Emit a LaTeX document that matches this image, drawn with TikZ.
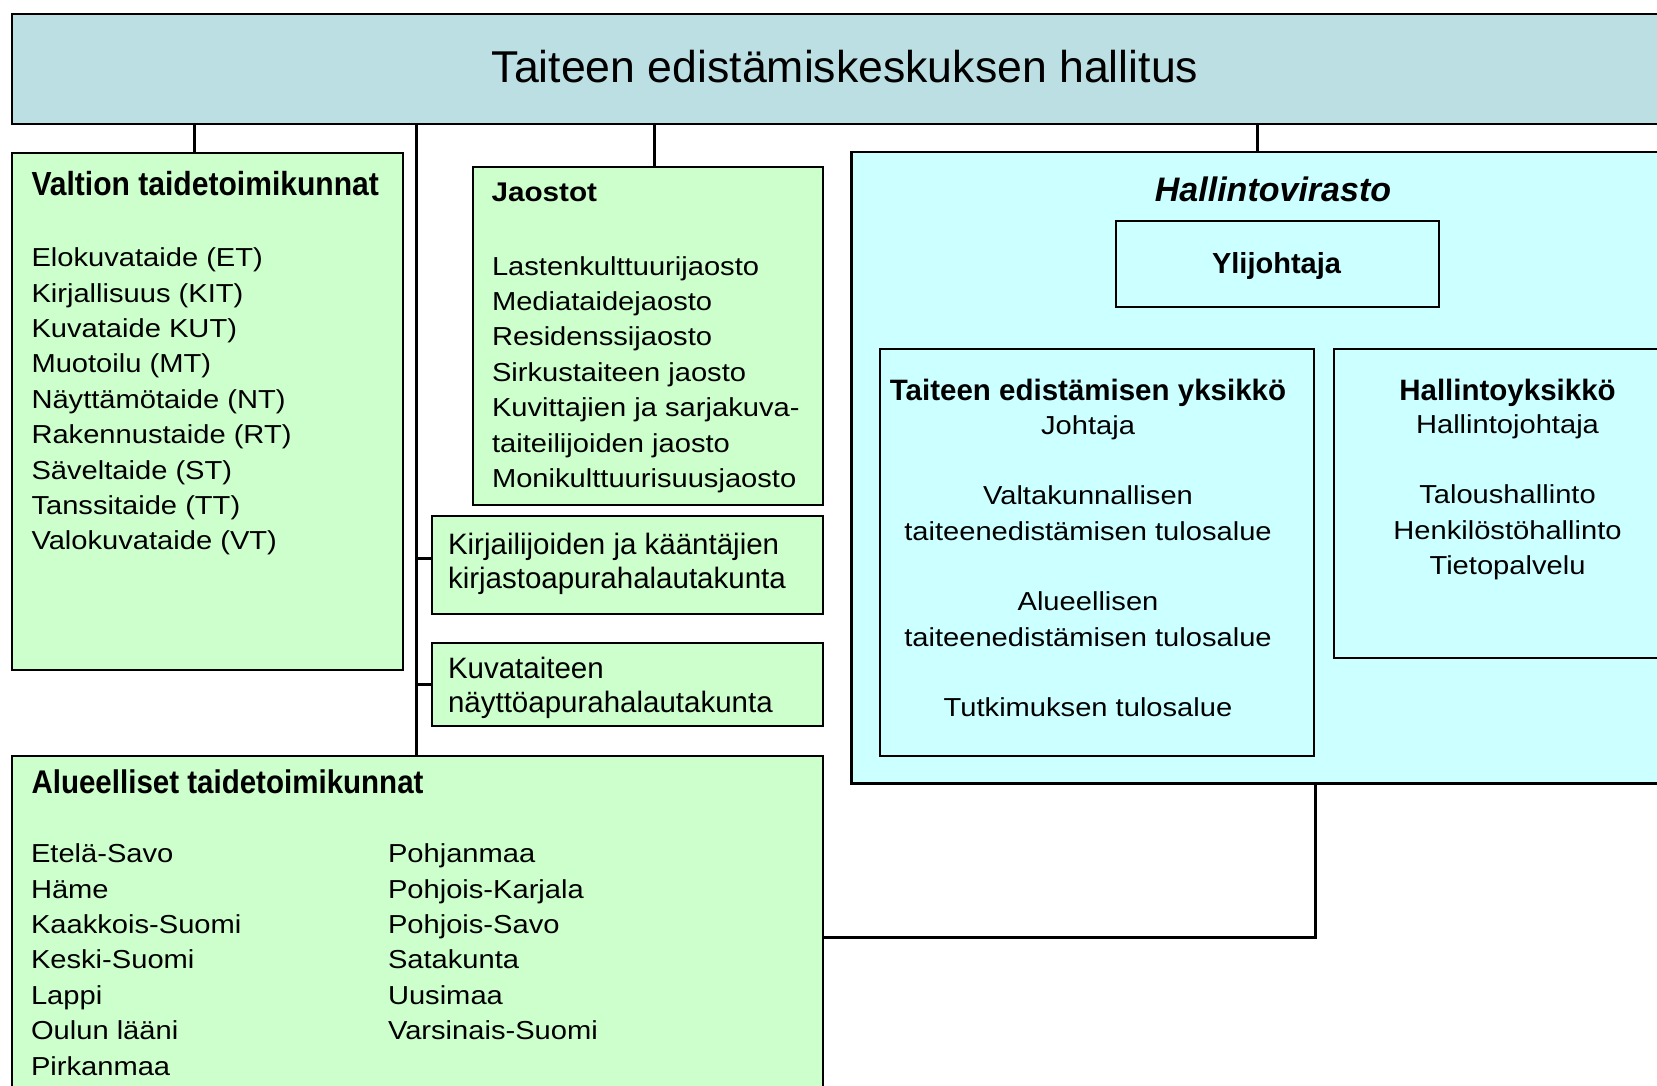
\documentclass[tikz,border=0pt]{standalone}
\usepackage{fontspec}
\setmainfont{Liberation Sans}
\newfontfamily\bodyf[FakeStretch=1.12]{Liberation Sans}
\newfontfamily\plainf{Liberation Sans}
\newfontfamily\condf[FakeStretch=0.9]{Liberation Sans}
\newfontfamily\widef[FakeStretch=1.1]{Liberation Sans}
\newcommand\mystrut[1]{\rule{0pt}{#1}}
\definecolor{topc}{HTML}{BBDFE2}
\definecolor{grn}{HTML}{CCFFCC}
\definecolor{cyn}{HTML}{CCFFFF}
\tikzset{
  box/.style={draw=black, line width=2pt, rectangle, anchor=north west, inner sep=0pt},
  gbox/.style={box, fill=grn},
  cbox/.style={box, fill=cyn},
  conn/.style={draw=black, line width=3pt},
  txt/.style={inner sep=0pt, outer sep=0pt},
  bodytxt/.style={txt, font={\bodyf\fontsize{26}{35.4}\selectfont}},
}
\begin{document}
\begin{tikzpicture}[x=1pt, y=-1pt]
\useasboundingbox (0,0) rectangle (1657,1086);
\clip (0,0) rectangle (1657,1086);

% boxes
\node[box, fill=topc, line width=1.8pt, minimum width=1669pt, minimum height=110pt] (top) at (11,13) {};
\node[gbox, minimum width=391pt, minimum height=517pt] (valtion) at (11,152) {};
\node[gbox, minimum width=350pt, minimum height=338pt] (jaostot) at (472,166) {};
\node[gbox, minimum width=391pt, minimum height=98pt] (kirj) at (431,515) {};
\node[gbox, minimum width=391pt, minimum height=83pt] (kuva) at (431,642) {};
\node[gbox, minimum width=811pt, minimum height=345pt] (alue) at (11,755) {};
\node[cbox, line width=2.5pt, minimum width=830pt, minimum height=631pt] (hv) at (850,151) {};
\node[cbox, minimum width=323pt, minimum height=86pt] (yli) at (1115,220) {};
\node[cbox, minimum width=434pt, minimum height=407pt] (tey) at (879,348) {};
\node[cbox, minimum width=347pt, minimum height=309pt] (hy) at (1333,348) {};

% connector coordinates
\coordinate (c1) at (194,0);
\coordinate (c2) at (416,0);
\coordinate (c3) at (654,0);
\coordinate (c4) at (1257,0);
\coordinate (cy) at (0,937);

\draw[conn] (top.south -| c1) -- (valtion.north -| c1);
\draw[conn] (top.south -| c2) -- (alue.north -| c2);
\draw[conn] (top.south -| c3) -- (jaostot.north -| c3);
\draw[conn] (top.south -| c4) -- (hv.north -| c4);
\draw[conn] ([yshift=7pt]kirj.west -| c2) -- ([yshift=7pt]kirj.west);
\draw[conn] (kuva.west -| c2) -- (kuva.west);
\draw[conn] (hv.south -| tey.east) |- (cy -| alue.east);

% texts
\node[txt, anchor=base, font={\plainf\fontsize{44.6}{50}\selectfont}] (toptxt) at (845,83) {Taiteen edistämiskeskuksen hallitus};

\node[txt, anchor=base west, font={\condf\bfseries\fontsize{33.4}{38}\selectfont}] (valh) at (31.5,195.7) {Valtion taidetoimikunnat};
\node[bodytxt, anchor=north west, align=left] (vall) at (31.5,244.7) {\mystrut{22pt}Elokuvataide (ET)\\Kirjallisuus (KIT)\\Kuvataide KUT)\\Muotoilu (MT)\\Näyttämötaide (NT)\\Rakennustaide (RT)\\Säveltaide (ST)\\Tanssitaide (TT)\\Valokuvataide (VT)};

\node[txt, anchor=base west, font={\widef\bfseries\fontsize{27}{32}\selectfont}] (jaoh) at (491.5,201.7) {Jaostot};
\node[bodytxt, anchor=north west, align=left] (jaol) at (492,253) {\mystrut{22pt}Lastenkulttuurijaosto\\Mediataidejaosto\\Residenssijaosto\\Sirkustaiteen jaosto\\Kuvittajien ja sarjakuva-\\taiteilijoiden jaosto\\Monikulttuurisuusjaosto};

\node[txt, anchor=north west, align=left, font={\plainf\fontsize{29.5}{34}\selectfont}] (kirjt) at (448,531) {\mystrut{23pt}Kirjailijoiden ja kääntäjien\\kirjastoapurahalautakunta};
\node[txt, anchor=north west, align=left, font={\plainf\fontsize{29.5}{34}\selectfont}] (kuvat) at (448,655) {\mystrut{23pt}Kuvataiteen\\näyttöapurahalautakunta};

\node[txt, anchor=base west, font={\condf\bfseries\fontsize{32.8}{37}\selectfont}] (aluh) at (31.5,793.3) {Alueelliset taidetoimikunnat};
\node[bodytxt, anchor=north west, align=left] (alul1) at (31,840.7) {\mystrut{22pt}Etelä-Savo\\Häme\\Kaakkois-Suomi\\Keski-Suomi\\Lappi\\Oulun lääni\\Pirkanmaa};
\node[bodytxt, anchor=north west, align=left] (alul2) at (388,840.7) {\mystrut{22pt}Pohjanmaa\\Pohjois-Karjala\\Pohjois-Savo\\Satakunta\\Uusimaa\\Varsinais-Suomi};

\node[txt, anchor=base, font={\plainf\bfseries\itshape\fontsize{34}{40}\selectfont}] (hvh) at (1273,202) {Hallintovirasto};
\node[txt, anchor=base, font={\plainf\bfseries\fontsize{29}{34}\selectfont}] (ylit) at (1276.5,273.3) {Ylijohtaja};

\node[txt, anchor=base, font={\plainf\bfseries\fontsize{29.5}{34}\selectfont}] (teyh) at (1088,400) {Taiteen edistämisen yksikkö};
\node[bodytxt, anchor=north, align=center] (teyl) at (1088,412) {\mystrut{22pt}Johtaja\\[35.3pt]Valtakunnallisen\\taiteenedistämisen tulosalue\\[35.3pt]Alueellisen\\taiteenedistämisen tulosalue\\[35.3pt]Tutkimuksen tulosalue};

\node[txt, anchor=base, font={\plainf\bfseries\fontsize{29.5}{34}\selectfont}] (hyh) at (1507.5,400) {Hallintoyksikkö};
\node[bodytxt, anchor=north, align=center] (hyl) at (1507.5,411) {\mystrut{22pt}Hallintojohtaja\\[35.3pt]Taloushallinto\\Henkilöstöhallinto\\Tietopalvelu};
\end{tikzpicture}
\end{document}
